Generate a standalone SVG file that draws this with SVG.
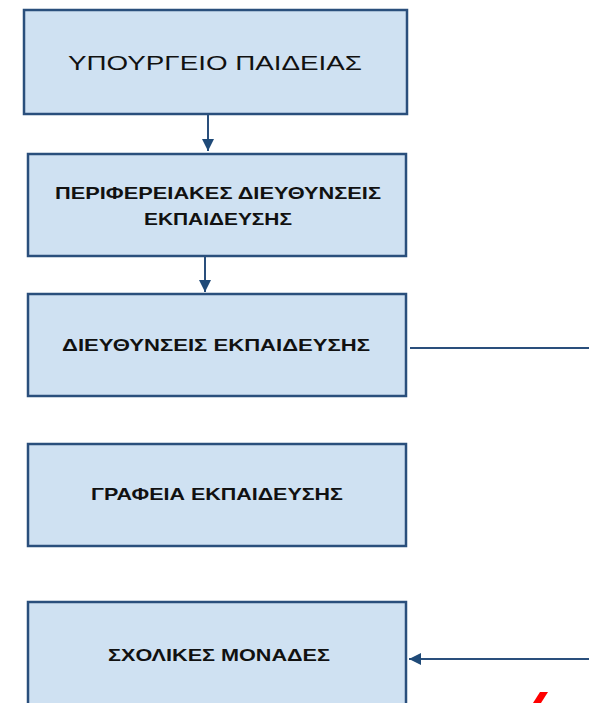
<svg xmlns="http://www.w3.org/2000/svg" width="589" height="703" viewBox="0 0 589 703">
<defs>
<marker id="ah" viewBox="0 0 10 10" refX="10" refY="5" markerWidth="6" markerHeight="6" orient="auto" markerUnits="strokeWidth">
<path d="M0,0 L10,5 L0,10 z" fill="#1f4a78"/>
</marker>
<style>
.box{fill:#cfe1f2;stroke:#2a4f7c;stroke-width:2.5}
.t{font-family:"Liberation Sans","DejaVu Sans",sans-serif;font-weight:bold;font-size:17px;fill:#111;text-anchor:middle}
.big{font-weight:normal;font-size:21px}
.c{stroke:#2a4f7c;stroke-width:2;fill:none}
</style>
</defs>
<rect width="589" height="703" fill="#fff"/>
<g id="n1"><rect class="box" x="24" y="10" width="383" height="104"/><text class="t big" x="215" y="70" textLength="294" lengthAdjust="spacingAndGlyphs">ΥΠΟΥΡΓΕΙΟ ΠΑΙΔΕΙΑΣ</text></g>
<g id="n2"><rect class="box" x="28" y="154" width="378" height="102"/><text class="t" x="218" y="199" textLength="326" lengthAdjust="spacingAndGlyphs">ΠΕΡΙΦΕΡΕΙΑΚΕΣ ΔΙΕΥΘΥΝΣΕΙΣ</text><text class="t" x="218" y="225" textLength="148" lengthAdjust="spacingAndGlyphs">ΕΚΠΑΙΔΕΥΣΗΣ</text></g>
<g id="n3"><rect class="box" x="28" y="294" width="378" height="102"/><text class="t" x="216" y="351" textLength="308" lengthAdjust="spacingAndGlyphs">ΔΙΕΥΘΥΝΣΕΙΣ ΕΚΠΑΙΔΕΥΣΗΣ</text></g>
<g id="n4"><rect class="box" x="28" y="444" width="378" height="102"/><text class="t" x="217" y="500" textLength="252" lengthAdjust="spacingAndGlyphs">ΓΡΑΦΕΙΑ ΕΚΠΑΙΔΕΥΣΗΣ</text></g>
<g id="n5"><rect class="box" x="28" y="602" width="378" height="110"/><text class="t" x="219" y="661" textLength="222" lengthAdjust="spacingAndGlyphs">ΣΧΟΛΙΚΕΣ ΜΟΝΑΔΕΣ</text></g>
<g id="connectors">
<line class="c" x1="208" y1="115" x2="208" y2="151" marker-end="url(#ah)"/>
<line class="c" x1="205" y1="257" x2="205" y2="292" marker-end="url(#ah)"/>
<line class="c" x1="410" y1="348" x2="589" y2="348"/>
<line class="c" x1="589" y1="659" x2="409" y2="659" marker-end="url(#ah)"/>
</g>
<polygon points="540,692 548,692 541,703 533,703" fill="#ff0000"/>
</svg>
